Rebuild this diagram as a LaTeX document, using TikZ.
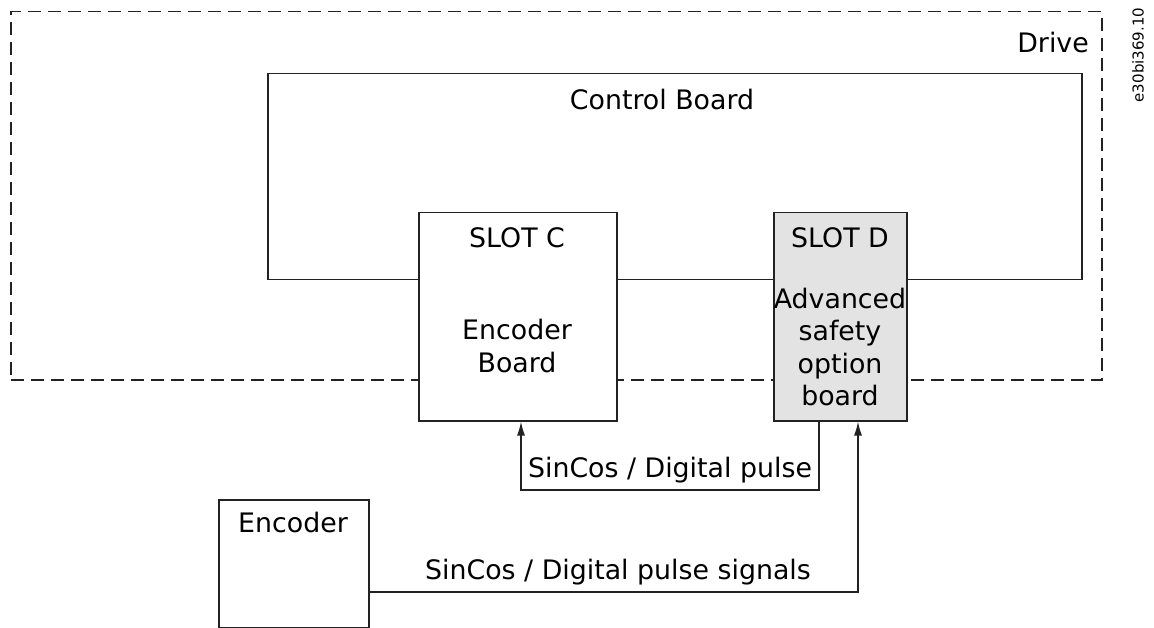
\documentclass[tikz,border=0pt]{standalone}
\usepackage{fontspec}
\setmainfont{DejaVu Sans}
\usetikzlibrary{arrows.meta}
\definecolor{linec}{HTML}{222222}
\definecolor{slotfill}{HTML}{E3E3E3}
\tikzset{
  boxn/.style={draw=linec, line width=1.5pt, rectangle, inner sep=0pt, anchor=north west},
  lbl/.style={font=\fontsize{26.8}{32.5}\selectfont, text=black, inner sep=0pt, align=center},
  conn/.style={draw=linec, line width=1.5pt},
  arr/.style={conn, -{Latex[length=14pt,width=8pt]}},
  drivedash/.style={draw=linec, line width=1.5pt, dash pattern=on 13pt off 7pt}
}
\begin{document}
\begin{tikzpicture}[x=1pt,y=-1pt]
\useasboundingbox (0,0) rectangle (1154,628);
% Drive
\node[drivedash, rectangle, inner sep=0pt, anchor=north west, minimum width=1091pt, minimum height=368pt] (drive) at (10,11) {};
\node[lbl, anchor=east] (drivelbl) at (1089,43) {Drive};
% Control board
\node[boxn, minimum width=814pt, minimum height=206pt] (cb) at (267,73) {};
\node[lbl] (cblbl) at (662,100) {Control Board};
% Slots
\node[boxn, fill=white, minimum width=198pt, minimum height=208pt] (slotC) at (418,212) {};
\node[boxn, fill=slotfill, minimum width=133pt, minimum height=208pt] (slotD) at (773,212) {};
\node[lbl] (slotClbl) at (517,238) {SLOT C};
\node[lbl] (slotCtxt) at (517,346) {Encoder\\Board};
\node[lbl] (slotDlbl) at (840,238) {SLOT D};
\node[lbl] (slotDtxt) at (840,347) {Advanced\\safety\\option\\board};
% Encoder
\node[boxn, minimum width=150pt, minimum height=128pt] (enc) at (218,499) {};
\node[lbl] (enclbl) at (293,523) {Encoder};
% Connectors
\draw[arr] ([xshift=46pt]slotD.south west) -- (819,490) -| ([xshift=103pt]slotC.south west);
\node[lbl, anchor=south] (l1) at (670,483) {SinCos / Digital pulse};
\draw[arr] ([yshift=-28pt]enc.east) -| ([xshift=85pt]slotD.south west);
\node[lbl, anchor=south] (l2) at (618,585) {SinCos / Digital pulse signals};
% Reference id
\node[font=\fontsize{15}{18}\selectfont, rotate=90, inner sep=0pt] (ref) at (1138,55) {e30bi369.10};
\end{tikzpicture}
\end{document}
